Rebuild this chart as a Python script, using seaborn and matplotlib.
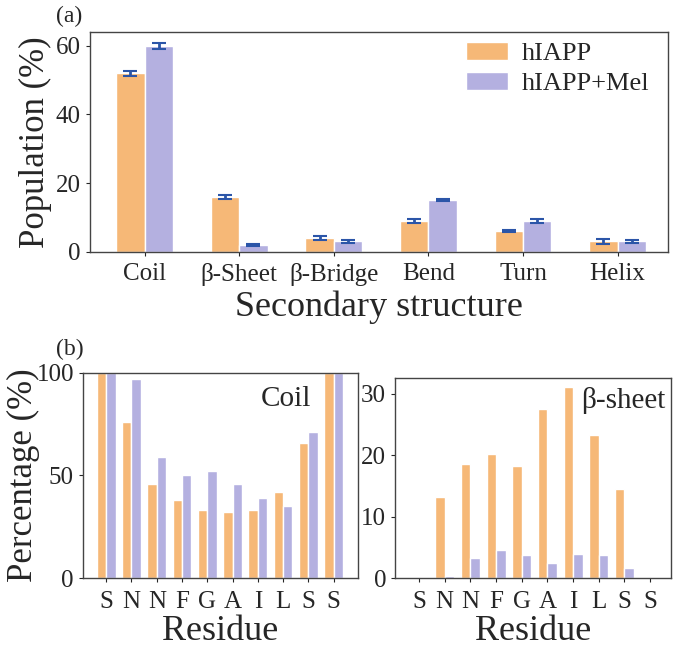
import pandas as pd
import matplotlib.pyplot as plt
import seaborn as sns

# Panel (a) - secondary structure population
estruturas = ["Coil", "β-Sheet", "β-Bridge", "Bend", "Turn", "Helix"]
pop_hiapp = [52, 16, 4, 9, 6, 3]
pop_mel = [60, 2, 3, 15, 9, 3]
err_hiapp = [0.8, 0.6, 0.6, 0.6, 0.3, 0.6]
err_mel = [0.8, 0.3, 0.3, 0.3, 0.6, 0.3]

# Panel (b) - per residue
residuos = ["S", "N", "N", "F", "G", "A", "I", "L", "S", "S"]
coil_hiapp = [100, 76, 46, 38, 33, 32, 33, 42, 66, 100]
coil_mel = [100, 97, 59, 50, 52, 46, 39, 35, 71, 100]
sheet_hiapp = [0, 13.2, 18.6, 20.2, 18.2, 27.6, 31.2, 23.3, 14.5, 0]
sheet_mel = [0, 0.4, 3.2, 4.6, 3.8, 2.4, 3.9, 3.8, 1.7, 0]

sistemas = ["hIAPP", "hIAPP+Mel"]
cores = ["#F6B877", "#B4B0E0"]

sns.set_style("ticks")
plt.rcParams["font.family"] = ["Liberation Serif", "DejaVu Serif"]
plt.rcParams["axes.edgecolor"] = "#444444"
plt.rcParams["axes.linewidth"] = 1.0

fig = plt.figure(figsize=(6.8, 6.54), dpi=100)
ax_a = fig.add_axes([0.132, 0.615, 0.850, 0.336])
ax_c = fig.add_axes([0.122, 0.116, 0.404, 0.314])
ax_s = fig.add_axes([0.581, 0.116, 0.406, 0.306])

# ---- (a)
df_a = pd.DataFrame({
    "estrutura": estruturas * 2,
    "pop": pop_hiapp + pop_mel,
    "sistema": [sistemas[0]] * len(estruturas) + [sistemas[1]] * len(estruturas),
})
sns.barplot(data=df_a, x="estrutura", y="pop", hue="sistema", palette=cores,
            width=0.6, gap=0, errorbar=None, saturation=1, ax=ax_a)
for cont, erros in zip(ax_a.containers, [err_hiapp, err_mel]):
    xs = [b.get_x() + b.get_width() / 2 for b in cont]
    ys = [b.get_height() for b in cont]
    ax_a.errorbar(xs, ys, yerr=erros, fmt="none", ecolor="#2B55A8",
                  elinewidth=2, capsize=5, capthick=1.5)
ax_a.set_xlim(-0.58, 5.53)
ax_a.set_ylim(0, 64)
ax_a.set_yticks([0, 20, 40, 60])
ax_a.tick_params(labelsize=18, length=3)
ax_a.tick_params(axis="x", pad=5)
ax_a.set_xlabel("Secondary structure", fontsize=26, labelpad=3)
ax_a.set_ylabel("Population (%)", fontsize=25, labelpad=3)
ax_a.legend(frameon=False, fontsize=19, loc="upper right",
            handlelength=1.6, handleheight=0.7, handletextpad=0.5,
            labelspacing=0.25, borderaxespad=0.3,
            bbox_to_anchor=(1.0, 1.04))
fig.text(0.083, 0.975, "(a)", fontsize=17, ha="left", va="center")


# ---- (b)
def painel_residuo(ax, v1, v2, titulo, ylim, yticks, pos):
    rotulos = [f"{r}{i}" for i, r in enumerate(residuos)]
    df = pd.DataFrame({
        "res": rotulos * 2,
        "val": v1 + v2,
        "sistema": [sistemas[0]] * len(rotulos) + [sistemas[1]] * len(rotulos),
    })
    sns.barplot(data=df, x="res", y="val", hue="sistema", palette=cores,
                width=0.74, gap=0, errorbar=None, saturation=1, ax=ax,
                legend=False)
    ax.set_xticks(range(len(residuos)))
    ax.set_xticklabels(residuos)
    ax.set_ylim(*ylim)
    ax.set_yticks(yticks)
    ax.tick_params(labelsize=18, length=3)
    ax.tick_params(axis="x", pad=6)
    ax.set_xlabel("Residue", fontsize=26, labelpad=2)
    ax.set_ylabel("")
    ax.text(pos[0], pos[1], titulo, transform=ax.transAxes, fontsize=21,
            ha="right", va="center")


painel_residuo(ax_c, coil_hiapp, coil_mel, "Coil", (0, 100), [0, 50, 100],
               (0.83, 0.87))
ax_c.set_xlim(-0.92, 9.95)
ax_c.set_ylabel("Percentage (%)", fontsize=25)
ax_c.yaxis.set_label_coords(-0.155, 0.5)

painel_residuo(ax_s, sheet_hiapp, sheet_mel, "β-sheet", (0, 32.6),
               [0, 10, 20, 30], (0.98, 0.89))
ax_s.set_xlim(-0.93, 9.82)

fig.text(0.083, 0.465, "(b)", fontsize=17, ha="left", va="center")

plt.savefig("out.png", dpi=100)
